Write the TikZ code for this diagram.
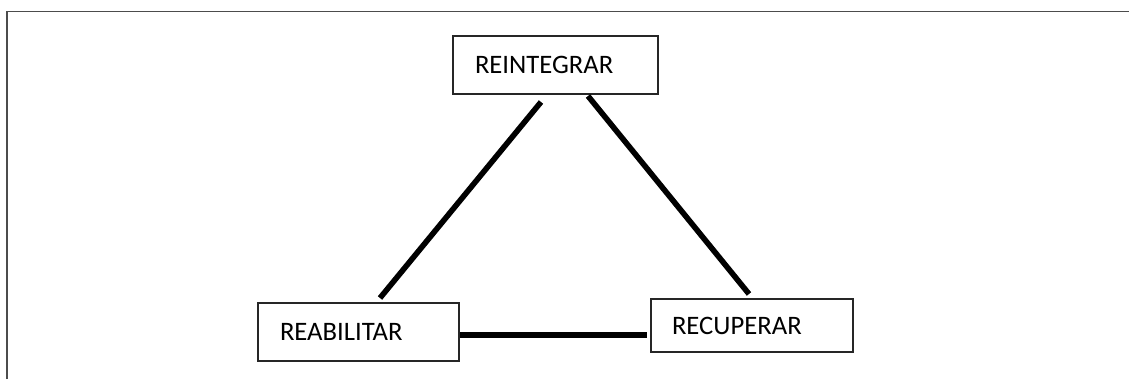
\documentclass[tikz,border=0pt]{standalone}
\usepackage{fontspec}
\setmainfont{Carlito}
\begin{document}
\begin{tikzpicture}[x=0.75pt,y=-0.75pt,
  box/.style={draw=black!85,line width=0.8pt,inner ysep=0pt,inner xsep=16.5pt,
    align=left,font=\fontsize{20}{22}\selectfont,anchor=center},
  link/.style={line width=4.2pt,black},
  frame/.style={draw=black!70,line width=1.2pt}]
\useasboundingbox (0,0) rectangle (1129,379);
% open frame: top and left edges only
\draw[frame] (7,379) -- (7,11.5) -- (1129,11.5);
% the three boxes
\node[box,text width=161*0.75pt,minimum height=43.5pt] (rein) at (555.5,65) {REINTEGRAR};
\node[box,text width=157*0.75pt,minimum height=43.5pt] (reab) at (358.5,332) {REABILITAR};
\node[box,text width=160*0.75pt,minimum height=39.75pt,inner xsep=15.75pt] (recu) at (752,325.5) {RECUPERAR};
% connector end points, set a little off the box edges
\coordinate (reinL) at (541,102);
\coordinate (reabT) at (380,298);
\coordinate (reinR) at (588,96);
\coordinate (recuT) at (749,294);
\coordinate (reabR) at (460,335);
\coordinate (recuL) at (647,335);
\draw[link] (reinL) -- (reabT);
\draw[link] (reinR) -- (recuT);
\draw[link] (reabR) -- (recuL);
\end{tikzpicture}
\end{document}
